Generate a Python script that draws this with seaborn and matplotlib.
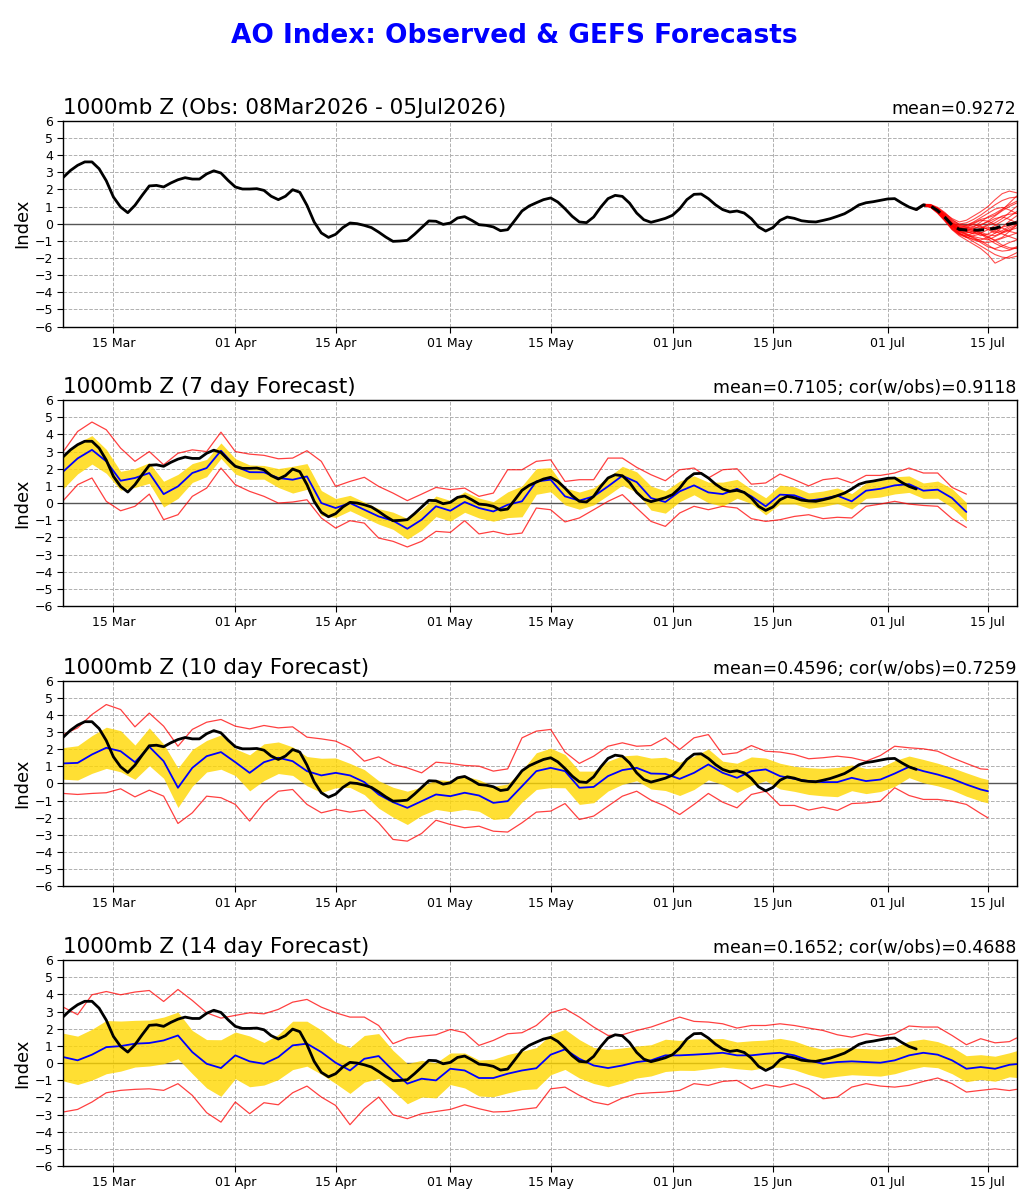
import numpy as np
import pandas as pd
import matplotlib
matplotlib.use("Agg")
import matplotlib.pyplot as plt
import matplotlib.dates as mdates
import seaborn as sns

# ---------------- data ----------------
obs_dates = pd.date_range("2026-03-08", "2026-07-05", freq="D")
obs = [2.7, 3.1, 3.4, 3.6, 3.6, 3.2, 2.5, 1.55, 0.97, 0.64,
       1.07, 1.65, 2.2, 2.23, 2.14, 2.37, 2.56, 2.68, 2.6, 2.6,
       2.9, 3.08, 2.95, 2.52, 2.14, 2.02, 2.02, 2.04, 1.94, 1.6,
       1.4, 1.6, 1.98, 1.83, 1.07, 0.1, -0.54, -0.8, -0.62, -0.23,
       0.04, 0.0, -0.1, -0.23, -0.49, -0.78, -1.03, -1.01, -0.97, -0.62,
       -0.23, 0.16, 0.14, -0.04, 0.04, 0.33, 0.41, 0.19, -0.06, -0.1,
       -0.19, -0.41, -0.35, 0.19, 0.74, 1.03, 1.22, 1.4, 1.5, 1.26,
       0.87, 0.43, 0.1, 0.06, 0.39, 0.97, 1.46, 1.65, 1.59, 1.2,
       0.62, 0.23, 0.08, 0.19, 0.31, 0.49, 0.87, 1.4, 1.71, 1.73,
       1.46, 1.1, 0.82, 0.68, 0.74, 0.62, 0.29, -0.19, -0.43, -0.23,
       0.19, 0.39, 0.31, 0.17, 0.12, 0.1, 0.19, 0.29, 0.43, 0.58,
       0.82, 1.09, 1.22, 1.28, 1.36, 1.44, 1.46, 1.2, 0.97, 0.82]

ens_dates = pd.date_range("2026-07-05", "2026-07-20", freq="D")
ens_mean = [0.82, 1.09, 1.03, 0.76, 0.37, -0.08, -0.33, -0.37, -0.37, -0.37,
            -0.33, -0.27, -0.14, -0.02, 0.06, 0.1]
ens_members = [
    [0.82, 1.12, 1.10, 0.90, 0.60, 0.30, 0.10, 0.20, 0.45, 0.70, 1.00, 1.40, 1.75, 1.90, 1.80, 1.70],
    [0.82, 1.05, 0.95, 0.60, 0.15, -0.35, -0.70, -0.95, -1.20, -1.45, -1.80, -2.30, -2.10, -1.90, -1.70, -1.50],
    [0.82, 1.10, 1.05, 0.80, 0.45, 0.05, -0.20, -0.30, -0.20, 0.10, 0.40, 0.60, 0.85, 1.10, 1.30, 1.40],
    [0.82, 1.08, 0.98, 0.70, 0.25, -0.25, -0.55, -0.75, -0.95, -1.05, -1.10, -1.00, -0.85, -0.70, -0.55, -0.40],
    [0.82, 1.13, 1.12, 0.95, 0.65, 0.25, -0.05, -0.10, 0.05, 0.25, 0.35, 0.50, 0.80, 1.20, 1.60, 1.90],
    [0.82, 1.06, 0.97, 0.65, 0.20, -0.30, -0.65, -0.80, -0.70, -0.60, -0.75, -1.00, -1.25, -1.40, -1.45, -1.40],
    [0.82, 1.10, 1.06, 0.82, 0.42, -0.02, -0.30, -0.45, -0.60, -0.55, -0.35, -0.10, 0.15, 0.40, 0.70, 0.90],
    [0.82, 1.09, 1.01, 0.72, 0.30, -0.15, -0.45, -0.55, -0.45, -0.25, -0.05, 0.20, 0.45, 0.55, 0.60, 0.65],
    [0.82, 1.11, 1.08, 0.85, 0.50, 0.10, -0.15, -0.10, 0.10, 0.35, 0.60, 0.85, 0.95, 0.80, 0.60, 0.50],
    [0.82, 1.07, 0.99, 0.68, 0.28, -0.20, -0.50, -0.65, -0.80, -1.00, -1.25, -1.50, -1.60, -1.55, -1.40, -1.20],
    [0.82, 1.10, 1.04, 0.78, 0.40, -0.05, -0.35, -0.45, -0.40, -0.50, -0.65, -0.70, -0.50, -0.25, -0.05, 0.15],
    [0.82, 1.08, 1.00, 0.74, 0.35, -0.10, -0.40, -0.40, -0.25, -0.20, -0.30, -0.45, -0.60, -0.75, -0.90, -1.00],
    [0.82, 1.12, 1.09, 0.88, 0.55, 0.15, -0.10, -0.20, -0.35, -0.55, -0.80, -0.95, -0.80, -0.45, -0.10, 0.20],
    [0.82, 1.06, 0.96, 0.62, 0.18, -0.32, -0.62, -0.70, -0.55, -0.30, -0.10, 0.05, 0.30, 0.65, 1.00, 1.20],
    [0.82, 1.09, 1.03, 0.77, 0.38, -0.08, -0.30, -0.25, -0.15, -0.05, 0.10, 0.30, 0.40, 0.25, 0.05, -0.10],
    [0.82, 1.07, 0.98, 0.70, 0.30, -0.18, -0.55, -0.80, -1.05, -1.30, -1.55, -1.80, -1.95, -2.00, -1.90, -1.80],
    [0.82, 1.11, 1.07, 0.83, 0.48, 0.05, -0.25, -0.35, -0.50, -0.70, -0.60, -0.40, -0.20, -0.10, 0.00, 0.10],
    [0.82, 1.10, 1.02, 0.76, 0.36, -0.10, -0.40, -0.50, -0.55, -0.40, -0.20, -0.30, -0.50, -0.35, -0.10, 0.05],
    [0.82, 1.09, 1.04, 0.80, 0.44, 0.00, -0.20, -0.15, -0.05, -0.15, -0.35, -0.55, -0.40, -0.15, 0.15, 0.35],
    [0.82, 1.08, 1.01, 0.73, 0.33, -0.12, -0.42, -0.60, -0.75, -0.85, -0.95, -0.75, -0.55, -0.40, -0.25, -0.15],
    [0.82, 1.10, 1.05, 0.79, 0.41, -0.04, -0.28, -0.22, 0.00, 0.20, 0.15, -0.05, -0.25, -0.45, -0.55, -0.60],
    [0.82, 1.07, 0.97, 0.66, 0.24, -0.26, -0.58, -0.78, -0.90, -0.95, -0.80, -0.55, -0.20, 0.15, 0.45, 0.70],
    [0.82, 1.12, 1.10, 0.90, 0.58, 0.20, -0.02, 0.05, 0.25, 0.50, 0.80, 1.10, 1.35, 1.50, 1.55, 1.50],
    [0.82, 1.08, 1.00, 0.72, 0.32, -0.14, -0.45, -0.62, -0.85, -1.10, -1.35, -1.45, -1.30, -1.10, -0.95, -0.80],
    [0.82, 1.09, 1.02, 0.75, 0.36, -0.10, -0.35, -0.40, -0.30, -0.10, 0.15, 0.45, 0.75, 1.00, 1.20, 1.30],
    [0.82, 1.11, 1.07, 0.84, 0.47, 0.03, -0.22, -0.30, -0.40, -0.60, -0.90, -1.15, -1.35, -1.50, -1.35, -1.10],
]

# 7-day forecast verification
fc7_dates = pd.date_range("2026-03-08", "2026-07-12", freq="2D")
mean7 = [1.84, 2.6, 3.1, 2.43, 1.3, 1.46, 1.75, 0.52, 0.97, 1.75,
         2.04, 3.05, 2.14, 1.8, 1.79, 1.46, 1.36, 1.55, 0.0, -0.29,
         0.0, -0.39, -0.78, -1.03, -1.5, -0.97, -0.19, -0.45, 0.06, -0.29,
         -0.49, -0.1, 0.1, 1.26, 1.36, 0.39, 0.14, 0.39, 0.97, 1.59,
         1.22, 0.29, 0.06, 0.68, 1.03, 0.62, 0.52, 0.83, 0.39, -0.19,
         0.49, 0.45, 0.14, 0.25, 0.43, 0.1, 0.72, 0.83, 1.03, 1.1,
         0.72, 0.78, 0.29, -0.52]
sd7 = [1.0, 0.9, 0.83, 0.7, 0.55, 0.55, 0.6, 0.75, 0.7, 0.55,
       0.5, 0.45, 0.45, 0.42, 0.4, 0.55, 0.78, 0.75, 0.73, 0.55,
       0.45, 0.45, 0.45, 0.5, 0.6, 0.6, 0.6, 0.6, 0.6, 0.58,
       0.57, 0.75, 0.9, 0.75, 0.7, 0.5, 0.5, 0.5, 0.52, 0.55,
       0.6, 0.7, 0.65, 0.6, 0.55, 0.6, 0.7, 0.55, 0.42, 0.5,
       0.55, 0.5, 0.45, 0.45, 0.45, 0.45, 0.45, 0.48, 0.5, 0.48,
       0.45, 0.5, 0.55, 0.55]
max7 = [3.0, 4.17, 4.72, 4.27, 3.2, 2.43, 3.0, 2.23, 2.9, 3.1,
        3.0, 4.13, 3.0, 2.85, 2.78, 2.58, 2.62, 3.05, 2.43, 0.97,
        1.26, 1.5, 0.97, 0.58, 0.14, 0.52, 0.91, 0.78, 0.87, 0.39,
        0.58, 1.94, 1.94, 2.43, 2.52, 1.26, 1.36, 1.36, 2.62, 2.62,
        2.08, 1.65, 1.3, 1.94, 2.04, 1.46, 1.94, 2.0, 1.1, 1.17,
        1.69, 1.36, 1.0, 1.36, 1.46, 1.17, 1.61, 1.61, 1.75, 2.04,
        1.75, 1.75, 0.91, 0.52]
min7 = [0.14, 1.07, 1.46, 0.1, -0.45, -0.19, 0.52, -0.97, -0.68, 0.39,
        0.87, 2.04, 1.07, 0.68, 0.39, 0.0, 0.06, 0.19, -0.87, -1.46,
        -1.03, -1.17, -2.04, -2.23, -2.56, -2.23, -1.65, -1.71, -1.03, -1.8,
        -1.65, -1.84, -1.75, -0.29, -0.39, -1.1, -0.87, -0.39, 0.1, 0.49,
        -0.29, -1.07, -1.36, -0.58, -0.19, -0.39, -0.19, -0.29, -0.91, -1.07,
        -0.97, -0.78, -0.68, -0.91, -0.83, -0.87, -0.19, -0.06, 0.1, -0.06,
        -0.14, -0.19, -0.91, -1.42]

# 10-day forecast verification
fc10_dates = pd.date_range("2026-03-08", "2026-07-14", freq="2D").append(pd.DatetimeIndex(["2026-07-15"]))
mean10 = [1.17, 1.2, 1.69, 2.08, 1.88, 1.24, 2.14, 1.3, -0.25, 0.91,
          1.59, 1.83, 1.24, 0.62, 1.24, 1.5, 1.3, 0.72, 0.47, 0.62,
          0.47, 0.08, -0.64, -1.09, -1.42, -1.03, -0.64, -0.74, -0.54, -0.7,
          -1.13, -1.03, -0.16, 0.72, 0.91, 0.72, -0.25, -0.2, 0.43, 0.78,
          0.91, 0.58, 0.56, 0.27, 0.62, 1.11, 0.62, 0.33, 0.72, 0.82,
          0.43, 0.27, 0.14, 0.08, 0.08, 0.33, 0.14, 0.23, 0.58, 0.97,
          0.72, 0.52, 0.27, -0.06, -0.35, -0.45]
sd10 = [0.92, 1.0, 1.1, 1.2, 1.2, 1.0, 1.1, 1.0, 1.15, 1.07,
        0.92, 1.0, 0.78, 1.05, 1.07, 0.92, 0.83, 0.85, 1.0, 0.87,
        0.7, 0.73, 0.8, 0.87, 0.97, 0.83, 0.87, 0.9, 0.97, 0.92,
        0.97, 1.0, 0.92, 1.07, 1.15, 0.97, 0.97, 0.92, 0.87, 0.83,
        0.75, 0.9, 0.97, 0.97, 0.97, 0.9, 0.68, 0.85, 0.83, 0.66,
        0.75, 0.73, 0.78, 0.8, 0.85, 0.75, 0.73, 0.7, 0.75, 0.63,
        0.68, 0.66, 0.65, 0.68, 0.68, 0.68]
max10 = [2.85, 3.24, 4.02, 4.6, 4.31, 3.3, 4.1, 3.34, 2.17, 3.15,
         3.57, 3.73, 3.34, 3.18, 3.38, 3.24, 3.3, 2.7, 2.6, 2.47,
         2.08, 1.3, 1.55, 1.11, 0.91, 0.62, 1.24, 1.17, 1.05, 1.01,
         0.72, 0.85, 2.66, 3.05, 3.15, 1.83, 1.17, 1.59, 2.17, 2.37,
         2.17, 2.21, 2.66, 1.98, 2.66, 2.85, 1.69, 1.79, 2.21, 1.88,
         1.83, 1.69, 1.44, 1.5, 1.59, 1.5, 1.3, 1.63, 2.17, 2.08,
         2.02, 1.88, 1.5, 1.17, 0.85, 0.82]
min10 = [-0.58, -0.64, -0.58, -0.54, -0.31, -0.78, -0.39, -0.74, -2.33, -1.71,
         -0.74, -0.83, -1.22, -2.19, -1.13, -0.45, -0.35, -1.22, -1.71, -1.51,
         -1.67, -1.55, -2.29, -3.26, -3.36, -2.91, -2.14, -2.39, -2.58, -2.49,
         -2.78, -2.83, -2.29, -1.67, -1.61, -1.17, -2.1, -1.9, -1.32, -0.74,
         -0.45, -0.97, -1.32, -1.81, -1.22, -0.58, -1.09, -1.42, -0.64, -0.45,
         -1.28, -1.28, -1.55, -1.38, -1.57, -1.17, -1.13, -1.03, -0.25, -0.7,
         -0.93, -0.93, -1.03, -1.22, -1.75, -2.0]

# 14-day forecast verification
fc14_dates = pd.date_range("2026-03-08", "2026-07-18", freq="2D").append(pd.DatetimeIndex(["2026-07-19"]))
mean14 = [0.35, 0.16, 0.49, 0.93, 0.99, 1.13, 1.17, 1.32, 1.61, 0.64,
          -0.04, -0.29, 0.45, 0.1, -0.04, 0.35, 1.03, 1.13, 0.64, 0.02,
          -0.43, 0.25, 0.41, -0.43, -1.2, -0.91, -1.01, -0.33, -0.43, -0.87,
          -0.87, -0.62, -0.43, -0.3, 0.49, 0.8, 0.25, -0.14, -0.29, -0.14,
          0.06, 0.16, 0.45, 0.45, 0.49, 0.54, 0.6, 0.45, 0.45, 0.54,
          0.6, 0.45, 0.16, -0.04, 0.06, 0.1, 0.06, 0.02, 0.16, 0.45,
          0.6, 0.49, 0.16, -0.33, -0.23, -0.33, -0.1, -0.06]
sd14 = [1.39, 1.41, 1.48, 1.55, 1.46, 1.36, 1.34, 1.36, 1.36, 1.26,
        1.41, 1.65, 1.36, 1.48, 1.24, 1.31, 1.41, 1.31, 1.29, 1.21,
        1.34, 1.36, 1.31, 1.17, 1.17, 1.07, 1.02, 0.92, 1.02, 1.05,
        1.09, 1.12, 1.12, 1.2, 1.17, 1.17, 1.12, 1.05, 1.09, 1.02,
        0.93, 0.91, 0.94, 0.87, 0.92, 0.87, 0.83, 0.78, 0.85, 0.8,
        0.84, 0.84, 0.83, 0.84, 0.83, 0.78, 0.78, 0.78, 0.78, 0.83,
        0.8, 0.76, 0.78, 0.76, 0.72, 0.73, 0.7, 0.78]
max14 = [3.26, 2.82, 3.98, 4.17, 3.98, 4.14, 4.23, 3.59, 4.29, 3.65,
         2.93, 2.62, 2.78, 2.93, 2.87, 3.13, 3.55, 3.71, 3.26, 2.93,
         2.68, 2.68, 2.19, 1.13, 1.46, 1.57, 1.65, 1.96, 1.77, 1.03,
         1.32, 1.71, 1.77, 2.19, 2.93, 3.17, 2.68, 2.1, 1.61, 1.65,
         1.9, 2.1, 2.39, 2.68, 2.43, 2.39, 2.29, 2.04, 2.19, 2.19,
         2.29, 2.19, 2.04, 1.9, 1.65, 1.51, 1.71, 1.57, 1.71, 2.16,
         2.1, 2.1, 1.61, 1.07, 1.42, 1.18, 1.25, 1.46]
min14 = [-2.85, -2.7, -2.27, -1.73, -1.59, -1.53, -1.5, -1.59, -1.2, -1.88,
         -2.89, -3.44, -2.27, -2.95, -2.31, -2.43, -1.73, -1.34, -1.98, -2.47,
         -3.59, -2.66, -1.98, -3.01, -3.24, -2.95, -2.82, -2.7, -2.43, -2.66,
         -2.85, -2.82, -2.7, -2.6, -1.5, -1.4, -1.88, -2.27, -2.43, -2.04,
         -1.79, -1.73, -1.69, -1.59, -1.2, -1.3, -1.07, -1.01, -1.5, -1.26,
         -1.4, -1.2, -1.5, -2.08, -1.98, -1.4, -1.2, -1.34, -1.4, -1.3,
         -1.07, -0.87, -1.2, -1.69, -1.59, -1.5, -1.6, -1.53]

panel_titles = ["1000mb Z (Obs: 08Mar2026 - 05Jul2026)",
                "1000mb Z (7 day Forecast)",
                "1000mb Z (10 day Forecast)",
                "1000mb Z (14 day Forecast)"]
panel_stats = ["mean=0.9272",
               "mean=0.7105; cor(w/obs)=0.9118",
               "mean=0.4596; cor(w/obs)=0.7259",
               "mean=0.1652; cor(w/obs)=0.4688"]
suptitle = "AO Index: Observed & GEFS Forecasts"
xtick_dates = pd.to_datetime(["2026-03-15", "2026-04-01", "2026-04-15", "2026-05-01",
                              "2026-05-15", "2026-06-01", "2026-06-15", "2026-07-01",
                              "2026-07-15"])
x_range = pd.to_datetime(["2026-03-08", "2026-07-19"])
y_ticks = list(range(-6, 7))

# ---------------- plotting ----------------
sns.set_theme(style="ticks")
plt.rcParams["font.family"] = ["DejaVu Sans"]
plt.rcParams.update({"text.color": "black", "axes.labelcolor": "black",
                     "xtick.color": "black", "ytick.color": "black",
                     "axes.edgecolor": "black"})

fig = plt.figure(figsize=(10.29, 12), dpi=100)
bottoms = [0.7278, 0.495, 0.2613, 0.0283]
axes = [fig.add_axes([0.0615, b, 0.9264, 0.1716]) for b in bottoms]

obs_df = pd.DataFrame({"date": obs_dates, "value": obs})

def style_axis(ax, i):
    ax.set_xlim(x_range[0], x_range[1])
    ax.set_ylim(-6, 6)
    ax.set_yticks(y_ticks)
    ax.set_xticks(xtick_dates)
    ax.xaxis.set_major_formatter(mdates.DateFormatter("%d %b"))
    ax.tick_params(axis="both", labelsize=9, length=4, width=0.8,
                   color="black", labelcolor="black")
    ax.grid(True, linestyle="--", color="#b0b0b0", linewidth=0.7)
    ax.set_axisbelow(True)
    ax.axhline(0, color="#555555", linewidth=1.0, zorder=1.5)
    ax.set_xlabel("")
    ax.set_ylabel("Index", fontsize=13, labelpad=2, color="black")
    ax.set_title(panel_titles[i], loc="left", fontsize=15.5, pad=5, color="black")
    ax.set_title(panel_stats[i], loc="right", fontsize=12.5, pad=5, color="black")
    for s in ax.spines.values():
        s.set_color("black")
        s.set_linewidth(1.0)

# Panel 1: observed + ensemble
ax = axes[0]
ens_rows = []
for m, vals in enumerate(ens_members):
    for d, v in zip(ens_dates, vals):
        ens_rows.append({"member": m, "date": d, "value": v})
ens_df = pd.DataFrame(ens_rows)
sns.lineplot(data=ens_df, x="date", y="value", units="member", estimator=None,
             color="red", linewidth=0.8, alpha=0.7, ax=ax, legend=False)
sns.lineplot(data=obs_df, x="date", y="value", color="black", linewidth=2.0, ax=ax)
sns.lineplot(x=ens_dates, y=ens_mean, color="black", linewidth=2.2, ax=ax,
             linestyle=(0, (3.5, 2)))
style_axis(ax, 0)

fc_sets = [(fc7_dates, mean7, sd7, max7, min7),
           (fc10_dates, mean10, sd10, max10, min10),
           (fc14_dates, mean14, sd14, max14, min14)]
for i, (dts, mu, sd, hi, lo) in enumerate(fc_sets, start=1):
    ax = axes[i]
    mu_a = np.array(mu)
    sd_a = np.array(sd)
    ax.fill_between(dts, mu_a - sd_a, mu_a + sd_a, color="#ffd700", alpha=0.8,
                    linewidth=0, zorder=2)
    sns.lineplot(x=dts, y=hi, color="red", linewidth=0.9, alpha=0.75, ax=ax)
    sns.lineplot(x=dts, y=lo, color="red", linewidth=0.9, alpha=0.75, ax=ax)
    sns.lineplot(x=dts, y=mu, color="blue", linewidth=1.3, ax=ax)
    sns.lineplot(data=obs_df, x="date", y="value", color="black", linewidth=2.0, ax=ax)
    style_axis(ax, i)

fig.text(0.5, 0.97, suptitle, ha="center", va="center", fontsize=19,
         fontweight="bold", color="blue")

fig.savefig("out.png", dpi=100)
